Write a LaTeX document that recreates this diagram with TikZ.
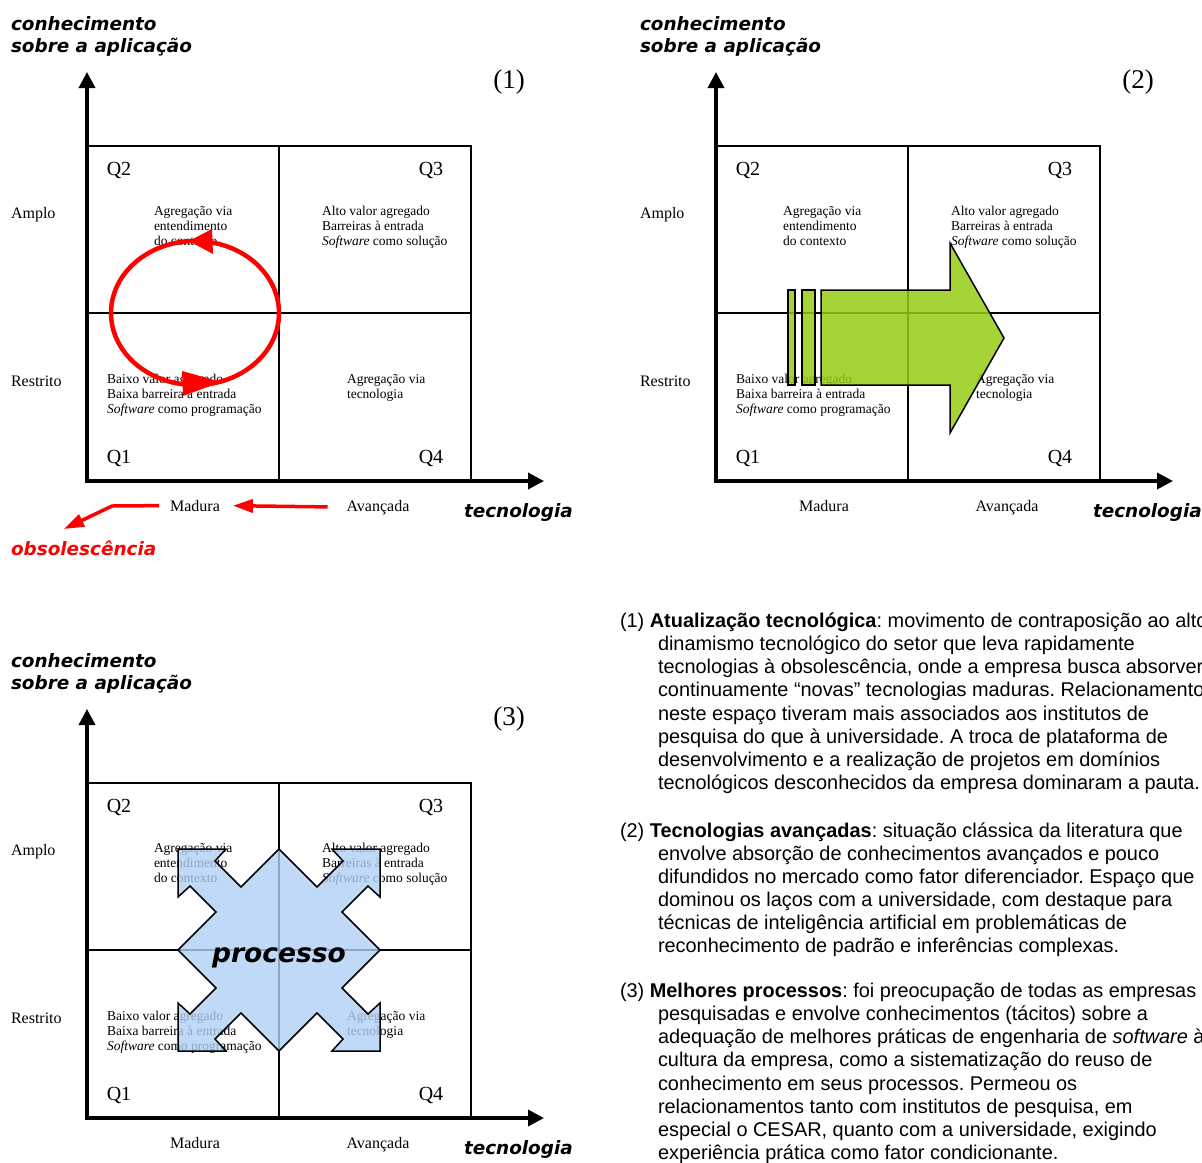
\documentclass[tikz,border=0pt]{standalone}
\usepackage{fontspec}
\setmainfont{Liberation Serif}
\newfontfamily\bodysans{Liberation Sans}
\newfontfamily\labelsans{DejaVu Sans}
\usetikzlibrary{arrows.meta}
\frenchspacing

\definecolor{crossblue}{RGB}{176,208,245}
\definecolor{arrowgreen}{RGB}{150,204,20}

\newcommand\hangin{\hspace*{38pt}}

\tikzset{
  gridline/.style={line width=1.8pt},
  axisline/.style={line width=3.5pt, -{Triangle[length=16pt,width=16pt]}},
  redarrow/.style={red, line width=3.5pt, -{Triangle[length=20pt,width=13pt]}},
  txt/.style={inner sep=0pt, outer sep=0pt},
  ylab/.style={txt, align=left, anchor=north west,
    font=\labelsans\bfseries\itshape\fontsize{18.4}{22}\selectfont},
  axlab/.style={txt, anchor=base west,
    font=\labelsans\bfseries\itshape\fontsize{18.4}{22}\selectfont},
  numlab/.style={txt, anchor=base, font=\fontsize{27}{30}\selectfont},
  qlab/.style={txt, anchor=base, font=\fontsize{20}{24}\selectfont},
  rowlab/.style={txt, anchor=base west, font=\fontsize{16}{19}\selectfont},
  quadtxt/.style={txt, align=left, anchor=north west,
    font=\fontsize{13.5}{15.3}\selectfont},
  para/.style={txt, align=left, anchor=north west,
    font=\bodysans\fontsize{19.9}{23.1}\selectfont},
}

% one quadrant chart: #1 name prefix, #2 shift, #3 chart number
\newcommand\quadpanel[3]{%
\begin{scope}[shift={#2}]
  \draw[gridline] (87,146) rectangle (471,481);
  \draw[gridline] (279,146) -- (279,481);
  \draw[gridline] (87,313) -- (471,313);
  \draw[axisline] (87,482.5) -- (87,72);
  \draw[axisline] (85.5,481) -- (544,481);
  \node[ylab] (#1yl) at (11,14.6) {\strut conhecimento\\sobre a aplicação};
  \node[numlab] (#1num) at (509,88) {(#3)};
  \node[qlab] (#1q2) at (119,175) {Q2};
  \node[qlab] (#1q3) at (431,175) {Q3};
  \node[qlab] (#1q1) at (119,463) {Q1};
  \node[qlab] (#1q4) at (431,463) {Q4};
  \node[rowlab] (#1amplo) at (11,218) {Amplo};
  \node[rowlab] (#1restr) at (11,386) {Restrito};
  \node[quadtxt] (#1t2) at (154,204.3) {\strut Agregação via\\entendimento\\do contexto};
  \node[quadtxt] (#1t3) at (322,204.3) {\strut Alto valor agregado\\Barreiras à entrada\\\textit{Software} como solução};
  \node[quadtxt] (#1t1) at (107,372.3) {\strut Baixo valor agregado\\Baixa barreira à entrada\\\textit{Software} como programação};
  \node[quadtxt] (#1t4) at (347,372.3) {\strut Agregação via\\tecnologia};
  \node[rowlab, anchor=base] (#1mad) at (195,511) {Madura};
  \node[rowlab, anchor=base] (#1avan) at (378,511) {Avançada};
  \node[axlab] (#1tec) at (464,517) {tecnologia};
\end{scope}}

\begin{document}
\begin{tikzpicture}[x=1pt, y=-1pt]
  \useasboundingbox (0,0) rectangle (1202,1162);
  \clip (0,0) rectangle (1202,1162);

  % ---------- chart (1): technology update cycle ----------
  \quadpanel{a}{(0,0)}{1}
  \draw[red, line width=4.5pt] (195,313) ellipse [x radius=84, y radius=72];
  \fill[red] (189,241) -- (212,229) -- (213,254) -- cycle;
  \fill[red] (221,382) -- (182,371) -- (183,396) -- cycle;
  \draw[redarrow, shorten <=19pt, shorten >=13pt] (aavan.west) -- (amad.east);
  \coordinate (obsbend) at (112,506);
  \coordinate (obstip) at (64,529);
  \draw[redarrow, shorten <=11pt] (amad.west) -- (obsbend) -- (obstip);
  \node[axlab, red] (obs) at (11,555) {obsolescência};

  % ---------- chart (2): advanced technologies ----------
  \quadpanel{b}{(629,0)}{2}
  \begin{scope}[draw=black, line width=1.5pt, fill=arrowgreen, fill opacity=0.85]
    \filldraw (788,290) rectangle (795,385);
    \filldraw (802,290) rectangle (815,385);
    \filldraw (821,290) -- (950,290) -- (950,243) -- (1004,338)
      -- (950,433) -- (950,385) -- (821,385) -- cycle;
  \end{scope}

  % ---------- chart (3): better processes ----------
  \quadpanel{c}{(0,637)}{3}
  \begin{scope}[shift={(279,950)}]
    \filldraw[line width=1.5pt, fill=crossblue, fill opacity=0.8]
      (0,-101)
      -- (38,-63) -- (64,-89) -- (53,-101) -- (101,-101) -- (101,-53) -- (89,-64) -- (63,-38)
      -- (101,0)
      -- (63,38) -- (89,64) -- (101,53) -- (101,101) -- (53,101) -- (64,89) -- (38,63)
      -- (0,101)
      -- (-38,63) -- (-64,89) -- (-53,101) -- (-101,101) -- (-101,53) -- (-89,64) -- (-63,38)
      -- (-101,0)
      -- (-63,-38) -- (-89,-64) -- (-101,-53) -- (-101,-101) -- (-53,-101) -- (-64,-89) -- (-38,-63)
      -- cycle;
    \node[txt, anchor=base, font=\labelsans\bfseries\itshape\fontsize{26.5}{30}\selectfont]
      (proc) at (0,12) {processo};
  \end{scope}

  % ---------- explanatory notes ----------
  \node[para] (n1) at (620,611.5) {\strut(1) \textbf{Atualização tecnológica}: movimento de contraposição ao alto\\
    \hangin dinamismo tecnológico do setor que leva rapidamente\\
    \hangin tecnologias à obsolescência, onde a empresa busca absorver\\
    \hangin continuamente “novas” tecnologias maduras. Relacionamentos\\
    \hangin neste espaço tiveram mais associados aos institutos de\\
    \hangin pesquisa do que à universidade. A troca de plataforma de\\
    \hangin desenvolvimento e a realização de projetos em domínios\\
    \hangin tecnológicos desconhecidos da empresa dominaram a pauta.};
  \node[para] (n2) at (620,821) {\strut(2) \textbf{Tecnologias avançadas}: situação clássica da literatura que\\
    \hangin envolve absorção de conhecimentos avançados e pouco\\
    \hangin difundidos no mercado como fator diferenciador. Espaço que\\
    \hangin dominou os laços com a universidade, com destaque para\\
    \hangin técnicas de inteligência artificial em problemáticas de\\
    \hangin reconhecimento de padrão e inferências complexas.};
  \node[para] (n3) at (620,981.5) {\strut(3) \textbf{Melhores processos}: foi preocupação de todas as empresas\\
    \hangin pesquisadas e envolve conhecimentos (tácitos) sobre a\\
    \hangin adequação de melhores práticas de engenharia de \textit{software} à\\
    \hangin cultura da empresa, como a sistematização do reuso de\\
    \hangin conhecimento em seus processos. Permeou os\\
    \hangin relacionamentos tanto com institutos de pesquisa, em\\
    \hangin especial o CESAR, quanto com a universidade, exigindo\\
    \hangin experiência prática como fator condicionante.};
\end{tikzpicture}
\end{document}
